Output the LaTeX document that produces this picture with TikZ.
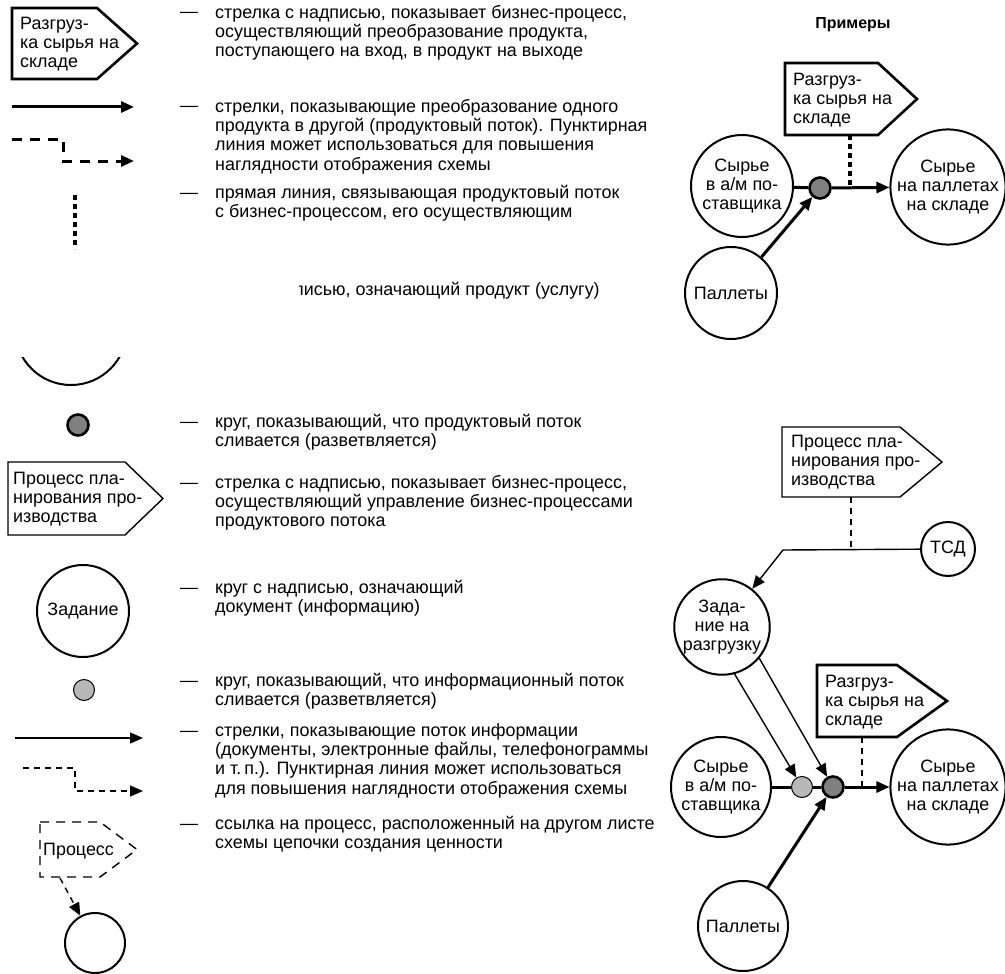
\documentclass[tikz,border=0pt]{standalone}
\usepackage{fontspec}
\setmainfont{Liberation Sans}
\usetikzlibrary{arrows.meta}
\begin{document}
\begin{tikzpicture}[x=1pt,y=-1pt,
  every node/.style={inner sep=0pt},
  txtfont/.style={font=\fontsize{17.9}{19.3}\selectfont},
  desc/.style={txtfont, align=left, anchor=north west},
  dashmark/.style={txtfont, anchor=base west},
  proclabel/.style={txtfont, align=left, anchor=west},
  heavy/.style={line width=3pt},
  light/.style={line width=1.4pt},
  tip/.style={-{Triangle[length=13pt,width=11pt]}},
  procheavy/.style={draw, line width=2.6pt, line join=miter},
  proclight/.style={draw, line width=1.4pt, line join=miter},
  procref/.style={draw, line width=1.4pt, dash pattern=on 9pt off 7pt},
  item/.style={circle, draw, line width=2pt, txtfont, align=center},
  darkdot/.style={circle, draw, line width=2.6pt, fill=black!50, minimum size=21pt},
  lightdot/.style={circle, draw, line width=1pt, fill=black!28, minimum size=21pt},
  dotlink/.style={line width=3.2pt, dash pattern=on 5pt off 4pt},
  dashlink/.style={line width=1.4pt, dash pattern=on 6pt off 5pt},
  heavydash/.style={line width=3pt, dash pattern=on 10pt off 8pt},
]
\useasboundingbox (0,0) rectangle (1005,974);

% ---------- legend: symbols ----------
\path[procheavy] (12,8) -- (97,8) -- (137,43.5) -- (97,79) -- (12,79) -- cycle;
\node[proclabel] (lp1) at (20,44) {Разгруз-\\ка сырья на\\складе};

\coordinate (la1) at (12,107);
\coordinate (lb1) at (134,107);
\draw[heavy, tip] (la1) -- (lb1);

\coordinate (la2) at (12,139);
\coordinate (lk2) at (63,139);
\coordinate (lm2) at (63,161);
\coordinate (lb2) at (134,161);
\draw[heavydash, tip] (la2) -- (lk2) -- (lm2) -- (lb2);

\coordinate (la3) at (75,195);
\coordinate (lb3) at (75,249);
\draw[dotlink] (la3) -- (lb3);

\begin{scope}
  \clip (0,357) rectangle (200,400);
  \draw[line width=2pt] (71,329) circle (56);
\end{scope}

\node[darkdot] (ld1) at (78,425) {};

\path[proclight] (8,462) -- (125,462) -- (163,498.5) -- (125,535) -- (8,535) -- cycle;
\node[proclabel] (lp2) at (13,499) {Процесс пла-\\нирования про-\\изводства};

\node[item, minimum size=92pt] (ldoc) at (83,611) {Задание};

\node[lightdot] (ld2) at (84,690) {};

\coordinate (la4) at (15,738);
\coordinate (lb4) at (143,738);
\draw[light, tip] (la4) -- (lb4);

\coordinate (la5) at (23,768);
\coordinate (lk5) at (75,768);
\coordinate (lm5) at (75,791);
\coordinate (lb5) at (143,791);
\draw[dashlink, tip] (la5) -- (lk5) -- (lm5) -- (lb5);

\path[procref] (40,822) -- (100,822) -- (137,849.5) -- (100,877) -- (40,877) -- cycle;
\node[proclabel] (lp3) at (43,851) {Процесс};
\coordinate (lp3b) at (60,878);
\node[circle, draw, line width=2pt, minimum size=60pt] (lend) at (95,943) {};
\draw[dashlink, tip] (lp3b) -- (lend);

% ---------- legend: explanations ----------
\foreach \yy/\nm in {13/m1,107/m2,193/m3,422/m5,483/m6,588/m7,681/m8,731/m9,824/m10}
  \node[dashmark] (\nm) at (180,\yy+5) {—};

\node[desc] (t1) at (215,5) {стрелка с надписью, показывает бизнес-процесс,\\осуществляющий преобразование продукта,\\поступающего на вход, в продукт на выходе};
\node[desc] (t2) at (215,99) {стрелки, показывающие преобразование одного\\продукта в другой (продуктовый поток). Пунктирная\\линия может использоваться для повышения\\наглядности отображения схемы};
\node[desc] (t3) at (215,185) {прямая линия, связывающая продуктовый поток\\с бизнес-процессом, его осуществляющим};
\begin{scope}
  \clip (299,270) rectangle (700,310);
  \node[desc] (t4) at (294,282) {писью, означающий продукт (услугу)};
\end{scope}
\node[desc] (t5) at (215,414) {круг, показывающий, что продуктовый поток\\сливается (разветвляется)};
\node[desc] (t6) at (215,475) {стрелка с надписью, показывает бизнес-процесс,\\осуществляющий управление бизнес-процессами\\продуктового потока};
\node[desc] (t7) at (215,580) {круг с надписью, означающий\\документ (информацию)};
\node[desc] (t8) at (215,673) {круг, показывающий, что информационный поток\\сливается (разветвляется)};
\node[desc] (t9) at (215,723) {стрелки, показывающие поток информации\\(документы, электронные файлы, телефонограммы\\и т.\,п.). Пунктирная линия может использоваться\\для повышения наглядности отображения схемы};
\node[desc] (t10) at (215,816) {ссылка на процесс, расположенный на другом листе\\схемы цепочки создания ценности};

% ---------- example 1 ----------
\node[font=\fontsize{16}{19}\selectfont\bfseries] (head) at (853,25) {Примеры};

\path[procheavy] (785,63) -- (878,63) -- (917,99) -- (878,135) -- (785,135) -- cycle;
\node[proclabel] (ep1) at (793,100) {Разгруз-\\ка сырья на\\складе};
\coordinate (ep1b) at (850,135);

\node[item, minimum size=102pt] (raw1) at (742,186) {Сырье\\в а/м по-\\ставщика};
\node[darkdot] (mx1) at (820,188) {};
\node[item, minimum size=108pt] (out1) at (948,187) {Сырье\\на паллетах\\на складе};
\node[item, minimum size=92pt] (pal1) at (731,293) {Паллеты};
\coordinate (j1) at (850,188);

\draw[heavy] (raw1) -- (mx1);
\draw[heavy, tip] (mx1) -- (out1);
\draw[heavy, tip] (pal1) -- (mx1);
\draw[dotlink] (ep1b) -- (j1);

% ---------- example 2 ----------
\path[proclight] (782,427) -- (900,427) -- (942,462) -- (900,497) -- (782,497) -- cycle;
\node[proclabel] (ep2) at (791,462) {Процесс пла-\\нирования про-\\изводства};
\coordinate (ep2b) at (851,497);
\coordinate (j2) at (851,550);
\coordinate (bend) at (783,550);

\node[item, minimum size=54pt] (tsd) at (948,549) {ТСД};
\node[item, minimum size=94pt] (task) at (722,627) {Зада-\\ние на\\разгрузку};

\draw[dashlink] (ep2b) -- (j2);
\draw[light, tip] (tsd) -- (bend) -- (task);

\path[procheavy] (817,665) -- (897,665) -- (947,701) -- (897,737) -- (817,737) -- cycle;
\node[proclabel] (ep3) at (825,702) {Разгруз-\\ка сырья на\\складе};
\coordinate (ep3b) at (862,737);
\coordinate (j3) at (862,787);

\node[item, minimum size=100pt] (raw2) at (721,787) {Сырье\\в а/м по-\\ставщика};
\node[lightdot] (mx2) at (802,787) {};
\node[darkdot] (mx3) at (833,787) {};
\node[item, minimum size=106pt] (out2) at (948,787) {Сырье\\на паллетах\\на складе};
\node[item, minimum size=90pt] (pal2) at (743,926) {Паллеты};

\draw[heavy] (raw2) -- (mx2);
\draw[heavy] (mx2) -- (mx3);
\draw[heavy, tip] (mx3) -- (out2);
\draw[heavy, tip] (pal2) -- (mx3);
\draw[light, tip] (task.-75) -- (mx2);
\draw[light, tip] (task.-40) -- (mx3);
\draw[dashlink] (ep3b) -- (j3);

\end{tikzpicture}
\end{document}
